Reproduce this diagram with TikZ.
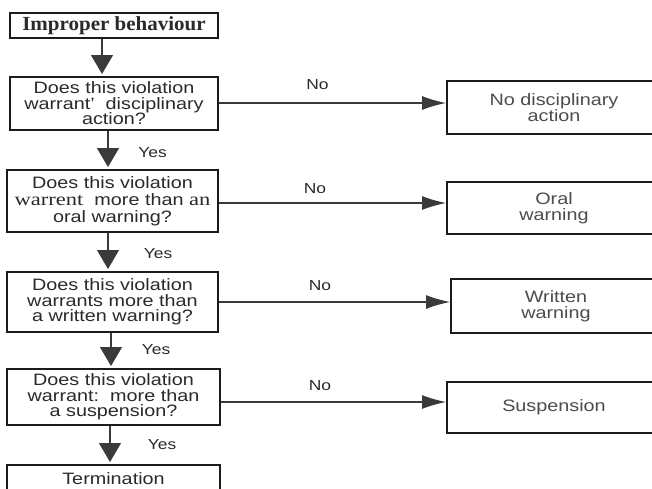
\documentclass[tikz,border=0pt]{standalone}
\usepackage{fontspec}
\setmainfont{Liberation Sans}
\newfontfamily\sfx[FakeStretch=1.2]{Liberation Sans}
\newfontfamily\serx[FakeStretch=1.05]{Liberation Serif}
\newfontfamily\serw[FakeStretch=1.25]{Liberation Serif}
\usetikzlibrary{arrows.meta}
\definecolor{boxc}{HTML}{1C1C1C}
\definecolor{linec}{HTML}{3A3A3A}
\definecolor{txtl}{HTML}{2A2A2A}
\definecolor{txtr}{HTML}{4C4C4C}
\begin{document}
\begin{tikzpicture}[x=1pt,y=-1pt,
  box/.style={draw=boxc,line width=2pt,inner sep=0pt,align=center,
    font=\sfx\fontsize{16.5}{15.5}\selectfont,text=txtl},
  rbox/.style={box,text=txtr},
  varrow/.style={draw=linec,line width=1.2pt,-{Triangle[width=22pt,length=19pt]},shorten >=2pt},
  harrow/.style={draw=linec,line width=1.2pt,-{Latex[width=14pt,length=24pt]}},
  lab/.style={font=\sfx\fontsize{14.5}{15}\selectfont,text=txtl,inner sep=0pt}]
\clip (0,0) rectangle (652,488);
\fill[white] (0,0) rectangle (652,488);

% left column
\node[box,minimum width=208pt,minimum height=25pt] (b1) at (114,25.5)
  {\serx\bfseries\fontsize{20}{22}\selectfont Improper behaviour};
\node[box,minimum width=208pt,minimum height=53pt] (b2) at (114,103.5)
  {Does this violation\\warrant’\ \ disciplinary\\action?};
\node[box,minimum width=211pt,minimum height=62pt,font=\sfx\fontsize{16.5}{17}\selectfont] (b3) at (112.5,201)
  {Does this violation\\{\serw\fontsize{18}{17}\selectfont warrent}\ \ more than {\serw\fontsize{18}{17}\selectfont an}\\oral warning?};
\node[box,minimum width=211pt,minimum height=60pt] (b4) at (112.5,302)
  {Does this violation\\warrants more than\\a written warning?};
\node[box,minimum width=213pt,minimum height=56pt] (b5) at (113.5,397)
  {Does this violation\\warrant:\ \ more than\\a suspension?};
\node[box,minimum width=213pt,minimum height=27pt] (b6) at (113.5,478.5)
  {Termination};

% right column
\node[rbox,minimum width=214pt,minimum height=53pt] (r1) at (554,107.5)
  {No disciplinary\\action};
\node[rbox,minimum width=214pt,minimum height=52pt] (r2) at (554,208)
  {Oral\\warning};
\node[rbox,minimum width=210pt,minimum height=54pt] (r3) at (556,306)
  {Written\\warning};
\node[rbox,minimum width=214pt,minimum height=51pt] (r4) at (554,407.5)
  {Suspension};

% helper coordinates
\coordinate (x1) at (102,0);
\coordinate (x2) at (108,0);
\coordinate (x3) at (108,0);
\coordinate (x4) at (111,0);
\coordinate (x5) at (110,0);
\coordinate (y1) at (0,103);
\coordinate (y2) at (0,203);
\coordinate (y3) at (0,302);
\coordinate (y4) at (0,402);

% vertical connectors
\draw[varrow] (b1.south -| x1) -- (b2.north -| x1);
\draw[varrow] (b2.south -| x2) -- (b3.north -| x2);
\draw[varrow] (b3.south -| x3) -- (b4.north -| x3);
\draw[varrow] (b4.south -| x4) -- (b5.north -| x4);
\draw[varrow] (b5.south -| x5) -- (b6.north -| x5);

% horizontal connectors
\draw[harrow] (b2.east |- y1) -- (r1.west |- y1);
\draw[harrow] (b3.east |- y2) -- (r2.west |- y2);
\draw[harrow] (b4.east |- y3) -- (r3.west |- y3);
\draw[harrow] (b5.east |- y4) -- (r4.west |- y4);

% labels
\node[lab] (yes1) at (152.5,153) {Yes};
\node[lab] (yes2) at (158,254) {Yes};
\node[lab] (yes3) at (156,350) {Yes};
\node[lab] (yes4) at (162,445) {Yes};
\node[lab] (no1) at (317.5,85) {No};
\node[lab] (no2) at (315,189) {No};
\node[lab] (no3) at (320,286) {No};
\node[lab] (no4) at (320,386) {No};
\end{tikzpicture}
\end{document}
